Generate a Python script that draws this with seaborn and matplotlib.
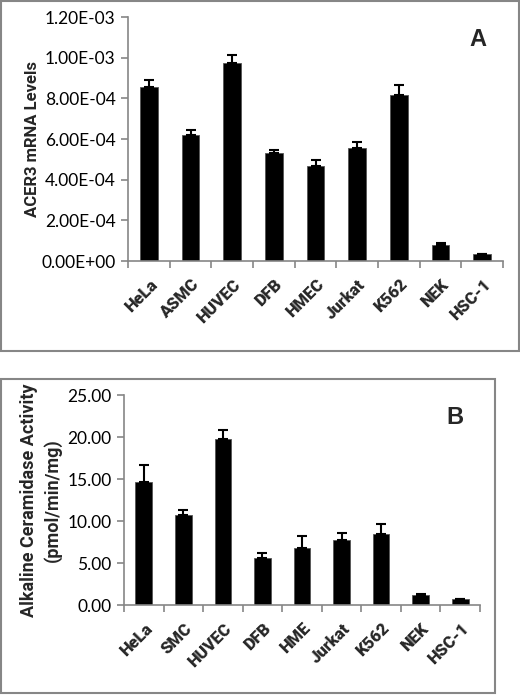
import matplotlib
matplotlib.use("Agg")
import matplotlib.pyplot as plt
import seaborn as sns
import pandas as pd
import numpy as np
from matplotlib.patches import Rectangle
from matplotlib.ticker import FixedLocator, FuncFormatter

# ---- data ----
cells_a = ["HeLa", "ASMC", "HUVEC", "DFB", "HMEC", "Jurkat", "K562", "NEK", "HSC-1"]
mrna = [8.55e-4, 6.22e-4, 9.73e-4, 5.30e-4, 4.65e-4, 5.56e-4, 8.16e-4, 7.7e-5, 3.4e-5]
mrna_err = [3.5e-5, 2.0e-5, 3.8e-5, 1.7e-5, 3.2e-5, 2.8e-5, 5.2e-5, 1.3e-5, 0.0]
yticks_a = [0, 2e-4, 4e-4, 6e-4, 8e-4, 1.0e-3, 1.2e-3]

cells_b = ["HeLa", "SMC", "HUVEC", "DFB", "HME", "Jurkat", "K562", "NEK", "HSC-1"]
activity = [14.68, 10.71, 19.76, 5.60, 6.75, 7.70, 8.49, 1.15, 0.75]
activity_err = [2.0, 0.6, 1.07, 0.6, 1.5, 0.9, 1.1, 0.12, 0.0]
yticks_b = [0, 5, 10, 15, 20, 25]

sns.set_theme(style="white")
plt.rcParams["font.family"] = ["Lato", "DejaVu Sans"]

W, H = 520, 698
fig = plt.figure(figsize=(W / 100, H / 100), dpi=100)
fig.patch.set_facecolor("white")

gray = "#868686"
BOLD = ["Roboto", "DejaVu Sans"]

def fx(px):
    return px / W

def fy(py):
    return 1 - py / H

# panel borders
fig.patches.append(Rectangle((fx(1), fy(351)), fx(518), (351 - 1) / H,
                             transform=fig.transFigure, fill=False,
                             edgecolor=gray, linewidth=1.5, zorder=0))
fig.patches.append(Rectangle((fx(1), fy(693)), fx(494), (693 - 379) / H,
                             transform=fig.transFigure, fill=False,
                             edgecolor=gray, linewidth=1.5, zorder=0))


def draw(ax, cats, vals, errs, yticks, fmt, ylabel, letter, letter_xy, ylabel_size, labelpad):
    df = pd.DataFrame({"cell": cats, "val": vals})
    sns.barplot(data=df, x="cell", y="val", ax=ax, color="black",
                width=0.42, edgecolor="#555555", linewidth=0.6,
                saturation=1, errorbar=None)
    ax.errorbar(np.arange(len(cats)), vals, yerr=[np.zeros(len(errs)), errs],
                fmt="none", ecolor="black", elinewidth=1.5, capsize=3.5,
                capthick=1.5, zorder=5)
    ax.set_xlim(-0.5, len(cats) - 0.5)
    ax.set_ylim(0, yticks[-1])
    ax.set_yticks(yticks)
    ax.yaxis.set_major_formatter(FuncFormatter(fmt))
    ax.set_xlabel("")
    ax.set_ylabel(ylabel, fontsize=ylabel_size, fontweight="bold", labelpad=labelpad,
                  family=BOLD, linespacing=1.35)
    for s in ["top", "right"]:
        ax.spines[s].set_visible(False)
    for s in ["left", "bottom"]:
        ax.spines[s].set_color(gray)
        ax.spines[s].set_linewidth(1.2)
    ax.tick_params(axis="y", which="major", direction="out", length=5,
                   width=1.2, color=gray, labelsize=12.5, left=True, pad=4,
                   labelcolor="black")
    ax.tick_params(axis="x", which="major", length=0, pad=11)
    ax.xaxis.set_minor_locator(FixedLocator(np.arange(-0.5, len(cats), 1.0)))
    ax.tick_params(axis="x", which="minor", direction="out", length=5,
                   width=1.2, color=gray, bottom=True)
    ax.set_xticks(range(len(cats)))
    ax.set_xticklabels(cats, rotation=45, ha="right", rotation_mode="anchor",
                       fontsize=12, fontweight=900, family=BOLD)
    ax.text(letter_xy[0], letter_xy[1], letter, transform=fig.transFigure,
            fontsize=17, fontweight="bold", ha="center", va="center",
            family="Liberation Sans")
    ax.grid(False)


ax1 = fig.add_axes([fx(128), fy(261), fx(503 - 128), (261 - 17) / H])
draw(ax1, cells_a, mrna, mrna_err, yticks_a,
     lambda v, p: ("%.2E" % v), "ACER3 mRNA Levels", "A",
     (fx(478), fy(40)), 12, 1)

ax2 = fig.add_axes([fx(124), fy(605), fx(480 - 124), (605 - 395) / H])
draw(ax2, cells_b, activity, activity_err, yticks_b,
     lambda v, p: ("%.2f" % v), "Alkaline Ceramidase Activity\n(pmol/min/mg)", "B",
     (fx(455), fy(417)), 13, 4)

fig.savefig("out.png", dpi=100, facecolor="white")
